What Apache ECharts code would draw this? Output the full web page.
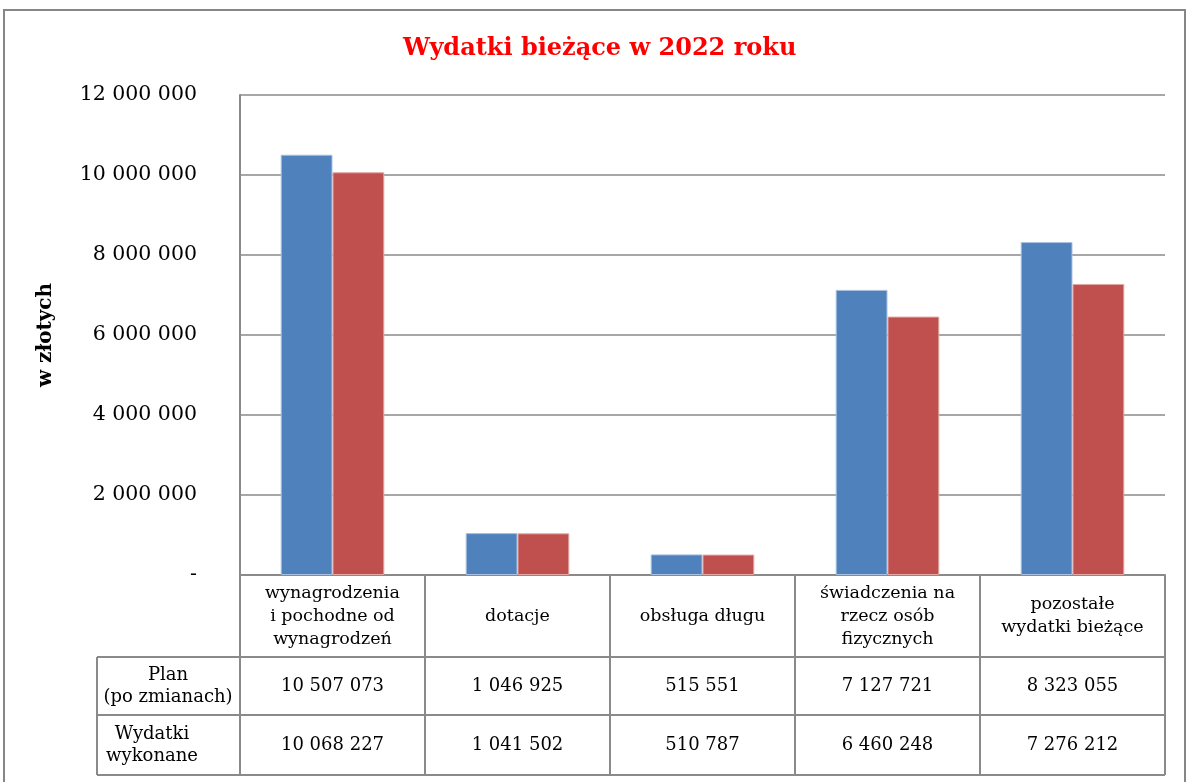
<!DOCTYPE html>
<html>
<head>
<meta charset="utf-8">
<script src="https://cdn.jsdelivr.net/npm/echarts@6/dist/echarts.min.js"></script>
<style>
html,body{margin:0;padding:0;background:#fff;}
#c{width:1187px;height:782px;}
</style>
</head>
<body>
<div id="c"></div>
<script>
const titleText = 'Wydatki bieżące w 2022 roku';
const yAxisName = 'w złotych';
const categories = ['wynagrodzenia\ni pochodne od\nwynagrodzeń', 'dotacje', 'obsługa długu', 'świadczenia na\nrzecz osób\nfizycznych', 'pozostałe\nwydatki bieżące'];
const seriesNames = ['Plan\n(po zmianach)', 'Wydatki\nwykonane'];
const planValues = [10507073, 1046925, 515551, 7127721, 8323055];
const doneValues = [10068227, 1041502, 510787, 6460248, 7276212];
const yMin = 0, yMax = 12000000, yStep = 2000000;

const SERIF = 'DejaVu Serif';
const fmt = v => String(v).replace(/\B(?=(\d{3})+(?!\d))/g, ' ');
const lineColor = '#8a8a8a';

const chart = echarts.init(document.getElementById('c'));
const tableFont = {fontFamily: SERIF, fontSize: 17.5, color: '#000', lineHeight: 23};

chart.setOption({
  animation: false,
  backgroundColor: '#fff',
  title: {
    text: titleText, left: 403, top: 37, padding: 0,
    textStyle: {fontFamily: SERIF, fontSize: 24, fontWeight: 'bold', color: '#ff0000'}
  },
  grid: {left: 240, right: 22, top: 95, bottom: 207},
  xAxis: [
    {type: 'category', data: categories, position: 'bottom',
     axisLine: {show: true, lineStyle: {color: lineColor, width: 2}},
     axisTick: {show: false},
     axisLabel: Object.assign({margin: 41, verticalAlign: 'middle', align: 'center', interval: 0}, tableFont)},
    {type: 'category', data: planValues.map(fmt), position: 'bottom', gridIndex: 0,
     axisLine: {show: false}, axisTick: {show: false},
     axisLabel: Object.assign({margin: 111, verticalAlign: 'middle', interval: 0}, tableFont, {fontSize: 18})},
    {type: 'category', data: doneValues.map(fmt), position: 'bottom', gridIndex: 0,
     axisLine: {show: false}, axisTick: {show: false},
     axisLabel: Object.assign({margin: 170, verticalAlign: 'middle', interval: 0}, tableFont, {fontSize: 18})}
  ],
  yAxis: {
    type: 'value', min: yMin, max: yMax, interval: yStep,
    name: yAxisName, nameLocation: 'middle', nameGap: 184, nameRotate: 90,
    nameTextStyle: {fontFamily: SERIF, fontSize: 20, fontWeight: 'bold', color: '#000'},
    axisLine: {show: true, lineStyle: {color: lineColor, width: 2}},
    axisTick: {show: false},
    splitLine: {lineStyle: {color: lineColor, width: 1.5}},
    axisLabel: {margin: 43, fontFamily: SERIF, fontSize: 20.5, color: '#000',
      formatter: v => v === 0 ? '-' : fmt(v)}
  },
  series: [
    {name: seriesNames[0], type: 'bar', data: planValues, barWidth: '28%', barGap: '0%',
     itemStyle: {color: '#4F81BD', borderColor: '#a9c1df', borderWidth: 1}},
    {name: seriesNames[1], type: 'bar', data: doneValues, barWidth: '28%', barGap: '0%',
     itemStyle: {color: '#C0504D', borderColor: '#e2a8a6', borderWidth: 1}}
  ]
});

// table grid lines derived from the category axis
const n = categories.length;
const c0 = chart.convertToPixel({xAxisIndex: 0}, 0);
const c1 = chart.convertToPixel({xAxisIndex: 0}, 1);
const band = c1 - c0;
const xLeft = c0 - band / 2;
const xRight = xLeft + band * n;
const yAxisPx = chart.convertToPixel({yAxisIndex: 0}, 0);
const rowH = [82, 58, 60];
const yHead = yAxisPx + rowH[0];
const yRow1 = yHead + rowH[1];
const yRow2 = yRow1 + rowH[2];
const xHeadL = 97;

const ls = {stroke: lineColor, lineWidth: 2};
const els = [];
function L(x1, y1, x2, y2) {
  els.push({type: 'line', shape: {x1, y1, x2, y2}, style: ls, silent: true, z: 10});
}
for (let i = 0; i <= n; i++) {
  const x = xLeft + band * i;
  L(x, yAxisPx, x, yRow2);
}
L(xHeadL, yHead, xHeadL, yRow2);
L(xHeadL, yHead, xRight, yHead);
L(xHeadL, yRow1, xRight, yRow1);
L(xHeadL, yRow2, xRight, yRow2);
// row headers (series names)
els.push({type: 'text', x: 168, y: (yHead + yRow1) / 2, style: {text: seriesNames[0], align: 'center', verticalAlign: 'middle', font: '18px "' + SERIF + '"', fill: '#000', lineHeight: 22}, z: 10});
els.push({type: 'text', x: 152, y: (yRow1 + yRow2) / 2, style: {text: seriesNames[1], align: 'center', verticalAlign: 'middle', font: '18px "' + SERIF + '"', fill: '#000', lineHeight: 22}, z: 10});
// outer chart frame
els.push({type: 'rect', shape: {x: 4, y: 10, width: 1181, height: 800}, style: {fill: null, stroke: '#868686', lineWidth: 2}, silent: true, z: 0});
chart.setOption({graphic: els});
</script>
</body>
</html>
